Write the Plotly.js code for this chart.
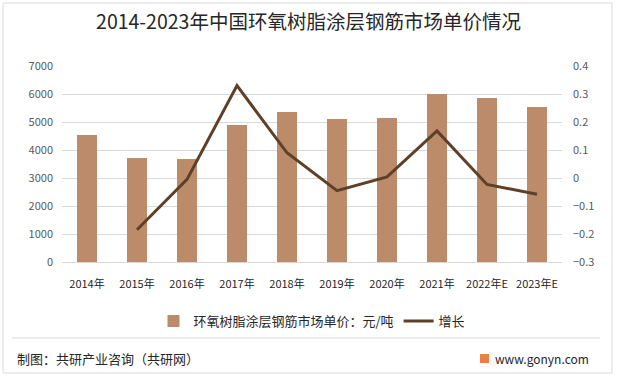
<!DOCTYPE html>
<html><head><meta charset="utf-8">
<script src="https://cdn.plot.ly/plotly-3.0.1.min.js"></script>
<style>html,body{margin:0;padding:0;background:#fff}#c{width:617px;height:378px}</style>
</head><body><div id="c"></div>
<script>
const categories = ["2014年","2015年","2016年","2017年","2018年","2019年","2020年","2021年","2022年E","2023年E"];
const price = [4540, 3710, 3680, 4890, 5360, 5110, 5140, 6000, 5860, 5540];
const growth = [null, -0.185, -0.005, 0.33, 0.09, -0.045, 0.004, 0.168, -0.023, -0.058];
const priceName = "环氧树脂涂层钢筋市场单价：元/吨";
const growthName = "增长";
const titleText = "2014-2023年中国环氧树脂涂层钢筋市场单价情况";
const footerLeft = "制图：共研产业咨询（共研网）";
const footerRight = "www.gonyn.com";

const L=62,R=562,T=66,B=262;
const px = x => (x-L)/(R-L);
const py = y => (B-y)/(B-T);
const font = "'Noto Sans CJK SC', 'Noto Sans', sans-serif";

const traces = [
  {type:'bar', x:categories, y:price, name:priceName, marker:{color:'#BC8C6A'}, width:0.4, yaxis:'y'},
  {type:'scatter', mode:'lines', x:categories, y:growth, name:growthName, line:{color:'#5E4029', width:3}, yaxis:'y2', connectgaps:false}
];

const layout = {
  width:617, height:378,
  margin:{l:L, r:617-R, t:T, b:378-B},
  paper_bgcolor:'#fff', plot_bgcolor:'#fff',
  font:{family:font, size:11, color:'#595959'},
  title:{text:titleText, font:{family:font, size:19.5, color:'#262626'}, x:0.5, xanchor:'center', y:1-22/378, yanchor:'middle'},
  showlegend:true,
  legend:{orientation:'h', x:0.5, xanchor:'center', y:py(321), yanchor:'middle', font:{size:13, color:'#262626'}, itemwidth:30, tracegroupgap:0},
  bargap:0.6,
  xaxis:{type:'category', tickfont:{size:11, color:'#262626'}, showline:true, linecolor:'#d9d9d9', ticks:'', showgrid:false, ticklabelstandoff:12},
  yaxis:{range:[0,7000], dtick:1000, showgrid:true, gridcolor:'#d9d9d9', zeroline:false, tickfont:{size:11,color:'#595959'}, ticklabelstandoff:8},
  yaxis2:{range:[-0.3,0.4], dtick:0.1, overlaying:'y', side:'right', showgrid:false, zeroline:false, tickfont:{size:11,color:'#595959'}, ticklabelstandoff:10},
  shapes:[
    {type:'rect', xref:'paper', yref:'paper', x0:px(3), x1:px(612), y0:py(373), y1:py(3), line:{color:'#d9d9d9', width:1}, fillcolor:'rgba(0,0,0,0)', layer:'below'},
    {type:'line', xref:'paper', yref:'paper', x0:px(12), x1:px(600), y0:py(338), y1:py(338), line:{color:'#d9d9d9', width:1}},
    {type:'rect', xref:'paper', yref:'paper', x0:px(480), x1:px(489), y0:py(363), y1:py(354), line:{width:0}, fillcolor:'#F07F3C'}
  ],
  annotations:[
    {text:footerLeft, xref:'paper', yref:'paper', x:px(15), y:py(358), xanchor:'left', yanchor:'middle', showarrow:false, font:{size:13, color:'#262626'}},
    {text:footerRight, xref:'paper', yref:'paper', x:px(493), y:py(358), xanchor:'left', yanchor:'middle', showarrow:false, font:{size:12, color:'#262626'}}
  ]
};
Plotly.newPlot('c', traces, layout, {displayModeBar:false, staticPlot:true});
</script></body></html>
